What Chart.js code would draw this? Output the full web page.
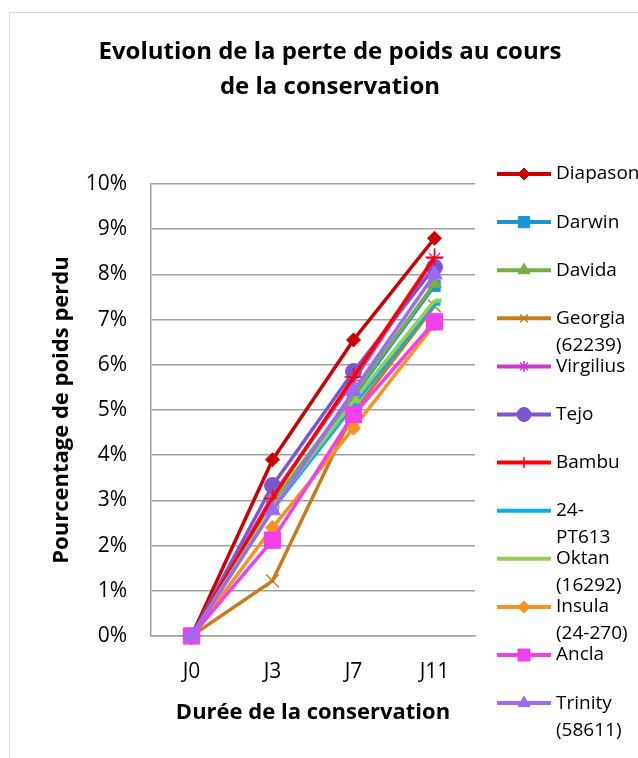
<!DOCTYPE html>
<html>
<head>
<meta charset="utf-8">
<script src="https://cdn.jsdelivr.net/npm/chart.js@4.4.1/dist/chart.umd.min.js"></script>
<style>
    html, body { margin: 0; padding: 0; background: #fff; overflow: hidden; }
    #wrap { position: relative; width: 638px; height: 758px; }
    #frame { position: absolute; left: 9px; top: 12px; width: 700px; height: 800px; border: 1px solid #d9d9d9; box-sizing: border-box; }
    #chart { position: absolute; left: 0; top: 0; }
</style>
</head>
<body>
<div id="wrap">
    <div id="frame"></div>
    <canvas id="chart" width="638" height="758"></canvas>
</div>
<script>
// Data (percentage of weight lost)
const days = ['J0', 'J3', 'J7', 'J11'];
const varieties = [
    ['Diapason'], ['Darwin'], ['Davida'], ['Georgia', '(62239)'], ['Virgilius'], ['Tejo'],
    ['Bambu'], ['24-', 'PT613'], ['Oktan', '(16292)'], ['Insula', '(24-270)'], ['Ancla'], ['Trinity', '(58611)']
];
const diapason  = [0, 3.90, 6.55, 8.80];
const darwin    = [0, 2.90, 5.30, 7.75];
const davida    = [0, 2.95, 5.35, 7.80];
const georgia   = [0, 1.22, 4.95, 7.30];
const virgilius = [0, 3.10, 5.65, 8.35];
const tejo      = [0, 3.33, 5.85, 8.16];
const bambu     = [0, 3.05, 5.73, 8.38];
const pt613     = [0, 2.80, 5.10, 7.35];
const oktan     = [0, 2.85, 5.20, 7.42];
const insula    = [0, 2.40, 4.60, 6.90];
const ancla     = [0, 2.12, 4.90, 6.95];
const trinity   = [0, 2.78, 5.42, 8.00];
const yTicks = [0, 1, 2, 3, 4, 5, 6, 7, 8, 9, 10];

const seriesValues = [diapason, darwin, davida, georgia, virgilius, tejo, bambu, pt613, oktan, insula, ancla, trinity];
const colors = ['#cc0000', '#1a96d4', '#77ad45', '#c97b1c', '#cc3acc', '#7e55d0',
                '#ff0000', '#00b0f0', '#92d050', '#f7931e', '#f23fea', '#9b6bf7'];
const styles = ['rectRot', 'rect', 'triangle', 'crossRot', 'star', 'circle',
                'cross', 'dash', 'dash', 'rectRot', 'rect', 'triangle'];
const radii = [7, 8, 8, 9, 8, 8, 9, 6, 7, 7, 11.5, 9];
const legendRadii = [6, 8, 7, 5.5, 5.5, 7, 5.5, 0, 0, 6, 8.5, 7];

const strokeOnly = s => ['cross', 'crossRot', 'star', 'dash'].includes(s);

const datasets = seriesValues.map((vals, i) => ({
    label: varieties[i].join(' '),
    data: vals,
    borderColor: colors[i],
    backgroundColor: colors[i],
    borderWidth: 3.5,
    borderJoinStyle: 'round',
    pointStyle: styles[i],
    pointRadius: radii[i],
    pointBackgroundColor: colors[i],
    pointBorderColor: colors[i],
    pointBorderWidth: styles[i] === 'dash' ? 4 : (strokeOnly(styles[i]) ? 1.5 : 1),
    order: seriesValues.length - 1 - i,
    clip: false,
    tension: 0
}));

// Title + legend drawn by hand to follow the original placement
const decorPlugin = {
    id: 'decor',
    afterDraw(chart) {
        const ctx = chart.ctx;
        ctx.save();
        ctx.fillStyle = '#000';
        ctx.textAlign = 'center';
        ctx.textBaseline = 'middle';
        ctx.font = '700 24px "Open Sans"';
        ctx.fillText('Evolution de la perte de poids au cours', 330, 52);
        ctx.fillText('de la conservation', 330, 87);

        const drawPoint = Chart.helpers && Chart.helpers.drawPoint;
        varieties.forEach((lines, i) => {
            const y = 174 + i * 48.1;
            ctx.strokeStyle = colors[i];
            ctx.fillStyle = colors[i];
            ctx.lineWidth = 4;
            ctx.beginPath();
            ctx.moveTo(497, y);
            ctx.lineTo(551, y);
            ctx.stroke();
            if (legendRadii[i] > 0 && drawPoint) {
                ctx.lineWidth = strokeOnly(styles[i]) ? 1.5 : 1;
                drawPoint(ctx, { pointStyle: styles[i], radius: legendRadii[i], borderWidth: ctx.lineWidth, rotation: 0 }, 524, y);
            }
            ctx.fillStyle = '#000';
            ctx.textAlign = 'left';
            ctx.font = '19px "Open Sans"';
            lines.forEach((t, k) => ctx.fillText(t, 556, y + k * 27));
        });
        ctx.restore();
    }
};

new Chart(document.getElementById('chart'), {
    type: 'line',
    data: { labels: days, datasets: datasets },
    options: {
        responsive: false,
        animation: false,
        devicePixelRatio: 1,
        layout: { padding: { top: 184, right: 163, left: 0, bottom: 0 } },
        plugins: {
            legend: { display: false },
            title: { display: false },
            tooltip: { enabled: false }
        },
        scales: {
            x: {
                offset: true,
                grid: { display: false, drawTicks: false },
                border: { display: true, color: '#a0a0a0', width: 1.5 },
                ticks: { color: '#000', font: { family: 'Open Sans', size: 21 }, padding: 23 },
                title: {
                    display: true,
                    text: 'Durée de la conservation',
                    color: '#000',
                    font: { family: 'Open Sans', size: 22, weight: 'bold' },
                    padding: { top: 0, bottom: 32 }
                },
                afterFit: s => { s.height = 122; }
            },
            y: {
                min: 0,
                max: 10,
                afterBuildTicks: s => { s.ticks = yTicks.map(v => ({ value: v })); },
                grid: { color: '#a0a0a0', lineWidth: 1.5, drawTicks: false },
                border: { display: true, color: '#a0a0a0', width: 1.5 },
                ticks: {
                    color: '#000',
                    font: { family: 'Open Sans', size: 21 },
                    padding: 24,
                    callback: v => v + '%'
                },
                title: {
                    display: true,
                    text: 'Pourcentage de poids perdu',
                    color: '#000',
                    font: { family: 'Open Sans', size: 22, weight: 'bold' },
                    padding: { top: 49, bottom: 0 }
                },
                afterFit: s => { s.width = 151; }
            }
        }
    },
    plugins: [decorPlugin]
});
</script>
</body>
</html>
